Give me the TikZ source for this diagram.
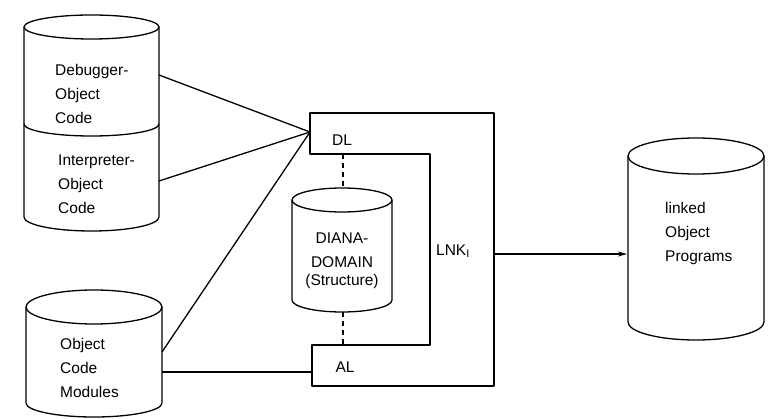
\documentclass[tikz,border=0pt]{standalone}
\usepackage{fontspec}
\setmainfont{Liberation Sans}
\usetikzlibrary{arrows.meta}
\begin{document}
\begin{tikzpicture}[x=1pt,y=-1pt,
  shapeline/.style={line width=1.3pt, line join=round},
  conn/.style={line width=1.3pt},
  dashconn/.style={line width=1.3pt, dash pattern=on 5pt off 4pt},
  lbl/.style={font=\fontsize{15.5}{24}\selectfont, inner sep=0pt, align=left},
  clbl/.style={font=\fontsize{15.5}{24}\selectfont, inner sep=0pt, align=center}]
\useasboundingbox (0,0) rectangle (770,419);

% stacked cylinder: Debugger / Interpreter object code
\draw[shapeline] (91.5,27) ellipse [x radius=67.5, y radius=12];
\draw[shapeline] (24,27) -- (24,217) arc [start angle=180, end angle=0, x radius=67.5, y radius=14] -- (159,27);
\draw[shapeline] (24,124) arc [start angle=180, end angle=0, x radius=67.5, y radius=12];
\node[lbl, anchor=west] (dbg) at (55,94) {Debugger-\\Object\\Code};
\node[lbl, anchor=west] (itp) at (58,184) {Interpreter-\\Object\\Code};
\coordinate (dbgR) at (159,75);
\coordinate (itpR) at (159,181);

% Object code modules
\draw[shapeline] (94,307) ellipse [x radius=68, y radius=17];
\draw[shapeline] (26,307) -- (26,403) arc [start angle=180, end angle=0, x radius=68, y radius=14] -- (162,307);
\node[lbl, anchor=west] (ocm) at (60,368) {Object\\Code\\Modules};
\coordinate (ocmR1) at (162,352);
\coordinate (ocmR2) at (162,372);

% DIANA domain
\draw[shapeline] (342,200) ellipse [x radius=50, y radius=12];
\draw[shapeline] (292,200) -- (292,300) arc [start angle=180, end angle=0, x radius=50, y radius=12] -- (392,200);
\node[clbl] (diana1) at (342,238) {DIANA-};
\node[clbl] (diana2) at (342,262) {DOMAIN};
\node[clbl] (diana3) at (342,281) {(Structure)};
\coordinate (dianaT) at (343,188);
\coordinate (dianaB) at (343,312);

% LNK_I C-shaped box
\draw[shapeline] (310,113) -- (494,113) -- (494,386) -- (312,386) -- (312,345) -- (430,345) -- (430,154) -- (310,154) -- cycle;
\node[lbl] (dl) at (342,140) {DL};
\node[lbl] (al) at (345,367) {AL};
\node[lbl] (lnk) at (453,251) {LNK\textsubscript{I}};
\coordinate (dlL) at (310,132);
\coordinate (dlB) at (343,154);
\coordinate (alL) at (312,372);
\coordinate (alT) at (343,345);
\coordinate (lnkR) at (494,254);

% linked object programs
\draw[shapeline] (696,156) ellipse [x radius=68, y radius=18];
\draw[shapeline] (628,156) -- (628,322) arc [start angle=180, end angle=0, x radius=68, y radius=18] -- (764,156);
\node[lbl, anchor=west] (lop) at (665,233) {linked\\Object\\Programs};
\coordinate (lopL) at (627,254);

% connectors
\draw[conn] (dbgR) -- (dlL);
\draw[conn] (itpR) -- (dlL);
\draw[conn] (ocmR1) -- (dlL);
\draw[conn] (ocmR2) -- (alL);
\draw[dashconn] (dlB) -- (dianaT);
\draw[dashconn] (dianaB) -- (alT);
\draw[conn, -{Stealth[length=9pt, width=5pt]}] (lnkR) -- (lopL);
\end{tikzpicture}
\end{document}
